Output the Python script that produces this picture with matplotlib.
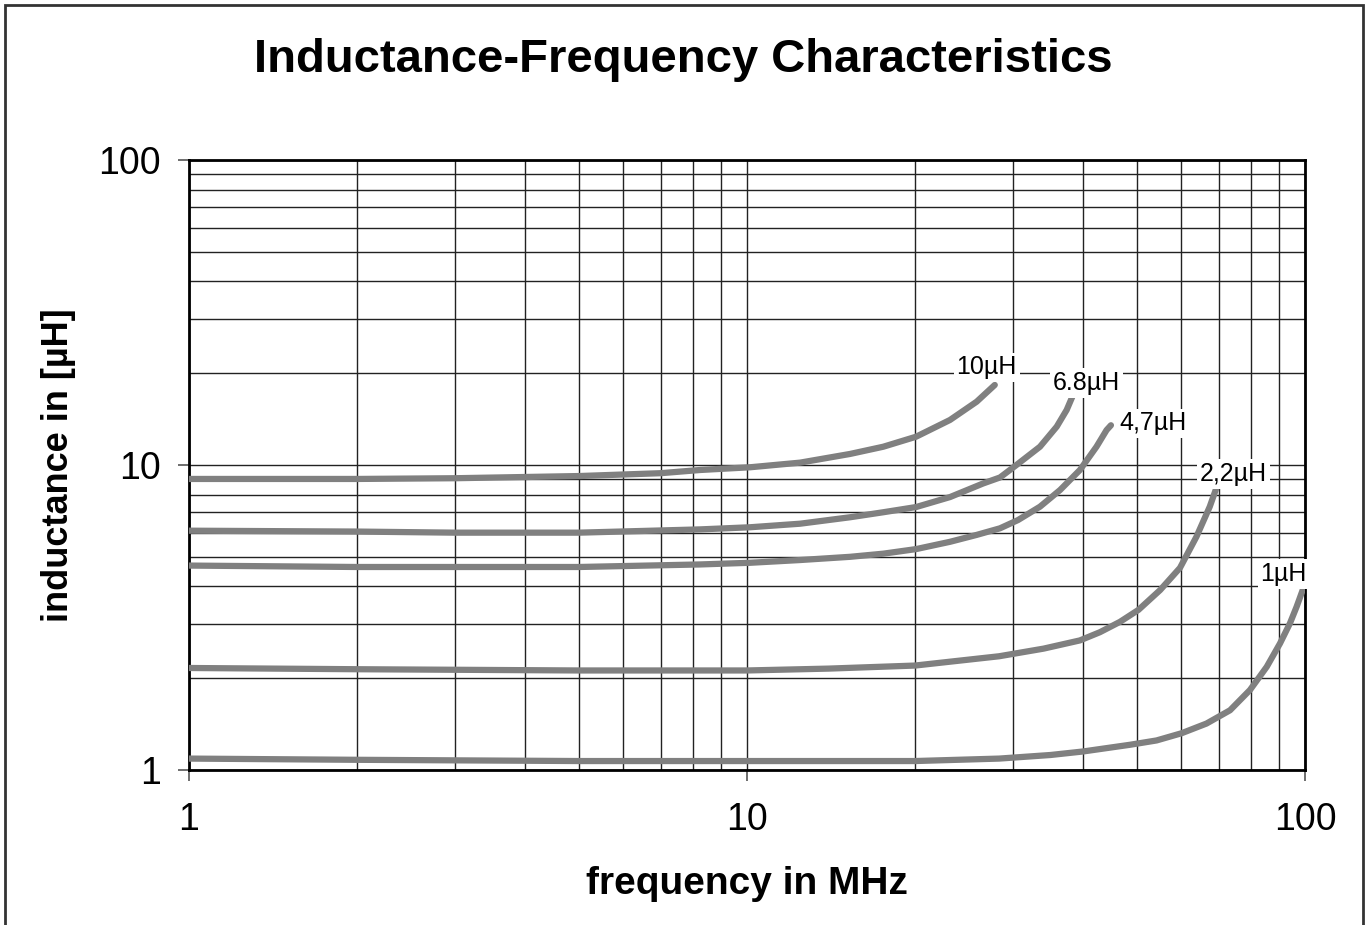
import matplotlib.pyplot as plt
from matplotlib.patches import Rectangle
from matplotlib.ticker import LogLocator, FixedLocator, NullFormatter

plt.rcParams['font.family'] = ['Liberation Sans', 'DejaVu Sans']

# Curves: frequency (MHz) and inductance (uH)
f_1 = [1, 2, 5, 10, 20, 28.3, 35, 40, 48.6, 54.2, 60.1, 66.6, 73.4, 79.7, 85.4,
       90.2, 94.0, 96.6, 99.3, 100]
L_1 = [1.09, 1.08, 1.07, 1.07, 1.07, 1.09, 1.12, 1.15, 1.21, 1.25, 1.32, 1.42, 1.57,
       1.83, 2.18, 2.60, 3.03, 3.43, 3.94, 4.0]

f_22 = [1, 2, 5, 10, 14, 20, 28.3, 34, 39.5, 42.9, 46.6, 50.3, 55.0, 59.7, 63.9,
        67.5, 69.5]
L_22 = [2.16, 2.14, 2.12, 2.12, 2.15, 2.2, 2.36, 2.5, 2.66, 2.83, 3.06, 3.35, 3.89,
        4.6, 5.82, 7.30, 8.49]

f_47 = [1, 2, 5, 8.24, 10.13, 12.45, 15.3, 17.55, 20.09, 23.11, 25.8, 28.4, 30.6,
        33.5, 36.4, 39.5, 42.3, 44.1, 44.9]
L_47 = [4.68, 4.63, 4.63, 4.72, 4.78, 4.88, 5.0, 5.12, 5.3, 5.6, 5.9, 6.2, 6.6,
        7.3, 8.28, 9.63, 11.48, 13.02, 13.5]

f_68 = [1, 2, 3, 5, 8.24, 10.13, 12.45, 15.3, 17.55, 20.09, 23.11, 26.5, 28.4, 30.4,
        33.5, 35.9, 37.4, 38.4]
L_68 = [6.09, 6.05, 6.0, 6.0, 6.15, 6.25, 6.42, 6.74, 7.0, 7.28, 7.85, 8.7, 9.1, 10.0,
        11.48, 13.36, 15.15, 16.96]

f_10 = [1, 2, 3, 5, 7, 8.24, 10.13, 12.45, 15.3, 17.55, 20.09, 23.11, 25.8, 27.8]
L_10 = [9.0, 9.0, 9.05, 9.2, 9.4, 9.63, 9.83, 10.18, 10.87, 11.48, 12.38, 14.05,
        16.13, 18.3]

series = [(f_10, L_10), (f_68, L_68), (f_47, L_47), (f_22, L_22), (f_1, L_1)]

# label text and anchor (data coords)
labels = ['10µH', '6.8µH', '4,7µH', '2,2µH', '1µH']
label_x = [26.9, 40.6, 53.3, 74.4, 91.6]
label_y = [20.9, 18.6, 13.7, 9.34, 4.39]

ticks = [1, 10, 100]
tick_labels = ['1', '10', '100']

fig = plt.figure(figsize=(13.66, 9.25), dpi=100)
ax = fig.add_axes([189 / 1366, 155 / 925, 1116 / 1366, 610 / 925])

ax.set_xscale('log')
ax.set_yscale('log')
ax.set_xlim(1, 100)
ax.set_ylim(1, 100)

ax.xaxis.set_major_locator(FixedLocator(ticks))
ax.yaxis.set_major_locator(FixedLocator(ticks))
ax.set_xticklabels(tick_labels)
ax.set_yticklabels(tick_labels)
ax.xaxis.set_minor_locator(LogLocator(base=10, subs=range(2, 10)))
ax.yaxis.set_minor_locator(LogLocator(base=10, subs=range(2, 10)))
ax.xaxis.set_minor_formatter(NullFormatter())
ax.yaxis.set_minor_formatter(NullFormatter())

ax.grid(True, which='both', color='#222222', linewidth=1.0)
ax.set_axisbelow(True)
ax.tick_params(which='major', direction='out', length=8, width=1.2,
               color='#555555', labelsize=27, pad=12)
ax.tick_params(which='minor', length=0)
ax.tick_params(axis='x', pad=15)
for s in ax.spines.values():
    s.set_linewidth(2)
    s.set_color('black')

for f, L in series:
    ax.plot(f, L, color='#808080', linewidth=4.5, solid_capstyle='round',
            solid_joinstyle='round', zorder=3)

for t, x, y in zip(labels, label_x, label_y):
    ax.text(x, y, t, fontsize=18, ha='center', va='center', zorder=4,
            bbox=dict(facecolor='white', edgecolor='none', pad=2))

ax.set_xlabel('frequency in MHz', fontsize=28, fontweight='bold', labelpad=20)
ax.set_ylabel('inductance in [µH]', fontsize=26, fontweight='bold', labelpad=16)
fig.text(0.5, 1 - 60 / 925, 'Inductance-Frequency Characteristics',
         fontsize=34, fontweight='bold', ha='center', va='center')

# outer frame
fig.patches.append(Rectangle((5 / 1366, -0.05), 1358 / 1366, 1.05 - 5 / 925,
                             transform=fig.transFigure, fill=False,
                             edgecolor='#333333', linewidth=2))

fig.savefig('out.png', dpi=100)
